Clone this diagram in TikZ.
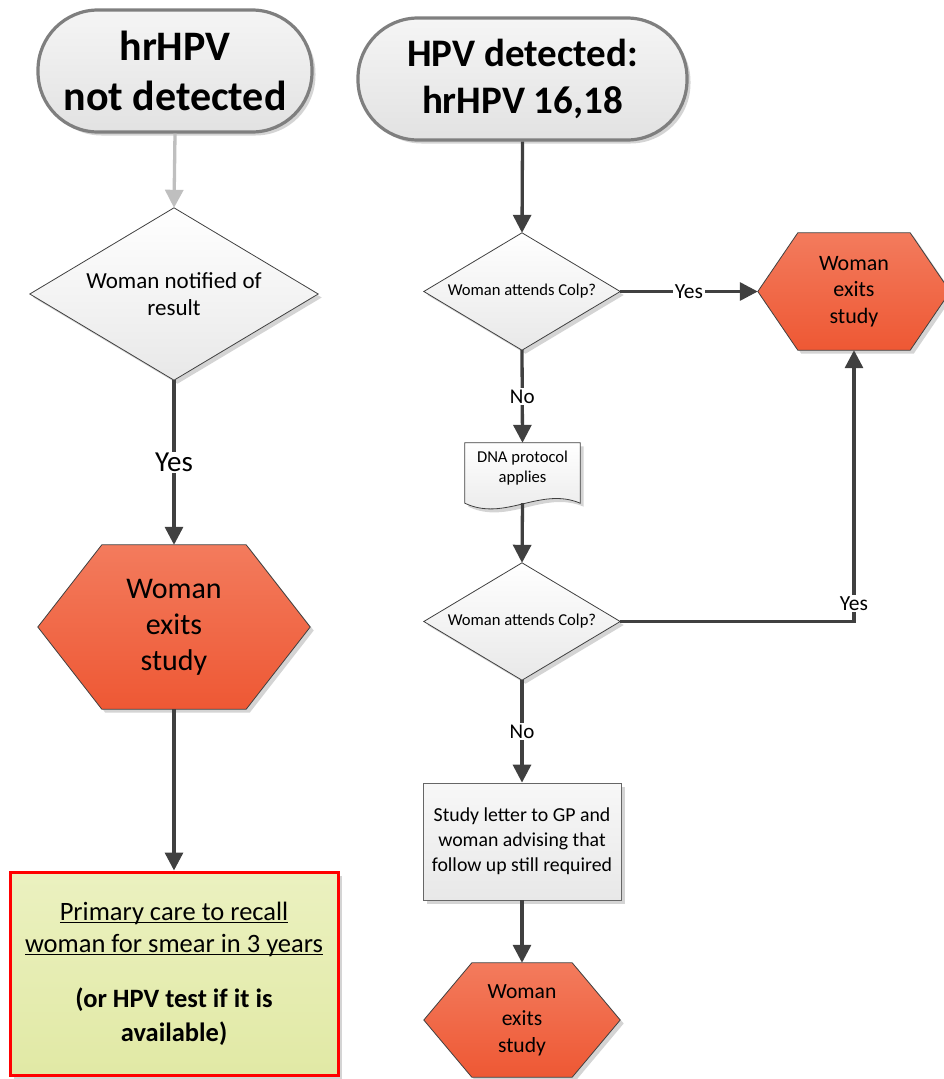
\documentclass[tikz,border=0pt]{standalone}
\usepackage{fontspec}
\setmainfont{Carlito}
\usetikzlibrary{arrows.meta,calc,backgrounds}

\definecolor{lineDark}{HTML}{404040}
\definecolor{lineLight}{HTML}{BFBFBF}
\definecolor{termTop}{HTML}{F5F5F5}
\definecolor{termBot}{HTML}{E2E2E2}
\definecolor{termEdge}{HTML}{7F7F7F}
\definecolor{paleTop}{HTML}{FFFFFF}
\definecolor{paleBot}{HTML}{E8E8E8}
\definecolor{hexTop}{HTML}{F37B5D}
\definecolor{hexBot}{HTML}{EE5834}
\definecolor{recallTop}{HTML}{EBF1C0}
\definecolor{recallBot}{HTML}{E1E9A5}
\definecolor{recallEdge}{HTML}{FF0000}
\definecolor{shade}{HTML}{D4D4D4}

\newcommand\fs[2]{\fontsize{#1}{#2}\selectfont}
% underlined text with a rule just under the baseline
\newlength\ulwidth
\newcommand\ulined[1]{\settowidth\ulwidth{#1}\rlap{\rule[-3pt]{\ulwidth}{1.1pt}}#1}

% hexagon drawn round a frame node: #1 node, #2 inset of the side points
\newcommand\hexagonAt[2]{%
  \path[hexfill] (#1.west) -- ($(#1.north west)+(#2,0)$) -- ($(#1.north east)+(-#2,0)$)
    -- (#1.east) -- ($(#1.south east)+(-#2,0)$) -- ($(#1.south west)+(#2,0)$) -- cycle;}
% decision diamond drawn round a frame node
\newcommand\diamondAt[1]{%
  \path[diafill] (#1.north) -- (#1.east) -- (#1.south) -- (#1.west) -- cycle;}

\tikzset{
  every node/.style={inner sep=0pt, align=center, text=black},
  dropshade/.style={preaction={fill=shade, transform canvas={xshift=3.5pt,yshift=-3.5pt}}},
  terminal/.style={draw=termEdge, line width=3.2pt, rounded corners=60pt,
    top color=termTop, bottom color=termBot, dropshade, font=\bfseries},
  diafill/.style={draw=lineDark, line width=0.8pt, top color=paleTop, bottom color=paleBot, dropshade},
  hexfill/.style={draw=lineDark, line width=0.8pt, top color=hexTop, bottom color=hexBot, dropshade},
  docfill/.style={draw=lineDark, line width=0.8pt, top color=paleTop, bottom color=paleBot, dropshade},
  procbox/.style={draw=lineDark!80, line width=0.8pt, top color=paleTop!97!black, bottom color=paleBot, dropshade},
  recall/.style={draw=recallEdge, line width=3pt, top color=recallTop, bottom color=recallBot, dropshade},
  flow/.style={draw=lineDark, line width=3.3pt, -{Triangle[length=18pt,width=18pt]}},
  flowlight/.style={flow, draw=lineLight, -{Triangle[length=18pt,width=18pt,color=lineLight]}},
  lab/.style={fill=white, inner sep=1.5pt},
}

\begin{document}
\begin{tikzpicture}[x=1pt, y=-1pt]
\useasboundingbox (0,0) rectangle (943,1079);

% ---------- left branch ----------
\node[terminal, minimum width=274pt, minimum height=122pt, font=\bfseries\fs{42}{50}]
  (t1) at (175,71) {hrHPV\\not detected};
\node[minimum width=288pt, minimum height=172pt, font=\fs{23}{27}] (d1) at (174,294)
  {Woman notified of\\result};
\node[minimum width=272pt, minimum height=164pt, font=\fs{30}{36}] (h1) at (174,627)
  {Woman\\exits\\study};
\node[recall, minimum width=328pt, minimum height=203pt, font=\fs{26.5}{32}] (b1) at (174,973.5)
  {\ulined{Primary care to recall}\\\ulined{woman for smear in 3 years}\\[23pt]
   \textbf{(or HPV test if it is}\\[2pt]\textbf{available)}};

% ---------- right branch ----------
\node[terminal, minimum width=329pt, minimum height=122pt, font=\bfseries\fs{39}{47}]
  (t2) at (522.5,79) {HPV detected:\\hrHPV 16,18};
\node[minimum width=196pt, minimum height=117pt, font=\fs{16.6}{20}] (d2) at (522,291.5)
  {Woman attends Colp?};
\node[minimum width=192pt, minimum height=117pt, font=\fs{22}{26.5}] (h2) at (854,291.5)
  {Woman\\exits\\study};
\node[minimum width=115pt, minimum height=60pt] (docf) at (522.5,473) {};
\node[font=\fs{16.6}{20}] (doc) at (522.5,468) {DNA protocol\\applies};
\node[minimum width=196pt, minimum height=117pt, font=\fs{16.6}{20}] (d3) at (522,621.5)
  {Woman attends Colp?};
\node[procbox, minimum width=198pt, minimum height=117pt, font=\fs{19.8}{25}] (c1) at (522,841.5)
  {Study letter to GP and\\woman advising that\\follow up still required};
\node[minimum width=196pt, minimum height=114pt, font=\fs{21.6}{27}] (h3) at (522,1020)
  {Woman\\exits\\study};

% ---------- shape outlines behind the texts ----------
\begin{pgfonlayer}{background}
  \diamondAt{d1}
  \hexagonAt{h1}{64}
  \diamondAt{d2}
  \hexagonAt{h2}{40}
  \diamondAt{d3}
  \hexagonAt{h3}{48}
  \path[docfill] (docf.north west) -- (docf.north east) -- (docf.south east)
    .. controls ($(docf.south east)+(-40,-17)$) and ($(docf.south west)+(40,19)$) .. (docf.south west)
    -- cycle;
\end{pgfonlayer}

% ---------- connectors ----------
\draw[flowlight] (t1.south) -- (d1.north);
\draw[flow] (d1.south) -- node[lab, font=\fs{29}{35}] (yesA) {Yes} (h1.north);
\draw[flow] (h1.south) -- (b1.north);

\draw[flow] (t2.south) -- (d2.north);
\draw[flow] (d2.east) -- node[lab, font=\fs{21.5}{26}] (yesB) {Yes} (h2.west);
\draw[flow] (d2.south) -- node[lab, font=\fs{21}{26}] (noA) {No} (docf.north);
\draw[flow] (docf.south) -- (d3.north);
\draw[flow] (d3.east) -| node[lab, pos=0.533, font=\fs{21.5}{26}] (yesC) {Yes} (h2.south);
\draw[flow] (d3.south) -- node[lab, font=\fs{21}{26}] (noB) {No} (c1.north);
\draw[flow] (c1.south) -- (h3.north);
\end{tikzpicture}
\end{document}
